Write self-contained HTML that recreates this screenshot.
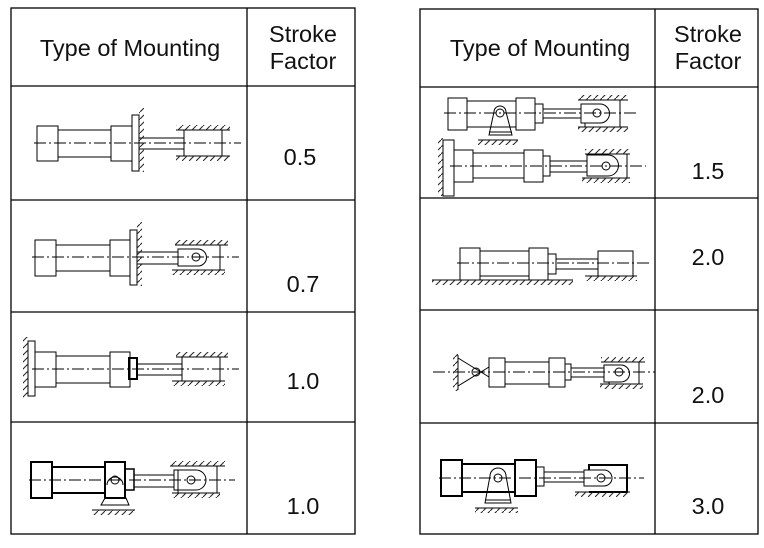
<!DOCTYPE html>
<html><head><meta charset="utf-8"><style>
body{margin:0;background:#fff;width:764px;height:548px;overflow:hidden}
svg{position:absolute;left:0;top:0}
text{font-family:"Liberation Sans",Arial,sans-serif;fill:#111}
</style></head><body>
<svg width="764" height="548" viewBox="0 0 764 548">
<defs>
<pattern id="h" width="7" height="7" patternUnits="userSpaceOnUse"><path d="M-1,8 L8,-1" stroke="#222" stroke-width="1"/></pattern>
</defs>
<g fill="none" stroke="#000" stroke-width="1.3">
<rect x="11" y="8" width="344" height="526"/>
<line x1="247" y1="8" x2="247" y2="534"/>
<line x1="11" y1="86" x2="355" y2="86"/><line x1="11" y1="200" x2="355" y2="200"/>
<line x1="11" y1="312" x2="355" y2="312"/><line x1="11" y1="422" x2="355" y2="422"/>
<rect x="420" y="9" width="338" height="525"/>
<line x1="655" y1="9" x2="655" y2="534"/>
<line x1="420" y1="87" x2="758" y2="87"/><line x1="420" y1="198" x2="758" y2="198"/>
<line x1="420" y1="310" x2="758" y2="310"/><line x1="420" y1="423" x2="758" y2="423"/>
</g>
<g font-size="23.5" text-anchor="middle">
<text x="130" y="56">Type of Mounting</text>
<text x="303" y="42">Stroke</text><text x="303" y="69">Factor</text>
<text x="540" y="56">Type of Mounting</text>
<text x="708" y="42">Stroke</text><text x="708" y="69">Factor</text>
<text x="300" y="165">0.5</text><text x="303" y="292">0.7</text>
<text x="303" y="389">1.0</text><text x="303" y="514">1.0</text>
<text x="708" y="179">1.5</text><text x="708" y="265">2.0</text>
<text x="708" y="403">2.0</text><text x="708" y="514">3.0</text>
</g>
<g fill="none" stroke="#000" stroke-width="1">
<g stroke-dasharray="12,3,2,3">
<line x1="34" y1="143" x2="241" y2="143"/><line x1="32" y1="257" x2="239" y2="257"/>
<line x1="32" y1="369" x2="239" y2="369"/><line x1="29" y1="480" x2="235" y2="480"/>
<line x1="444" y1="113" x2="638" y2="113"/><line x1="450" y1="166" x2="646" y2="166"/>
<line x1="457" y1="263" x2="650" y2="263"/><line x1="433" y1="372" x2="655" y2="372"/>
<line x1="439" y1="478" x2="644" y2="478"/>
</g>
<rect x="37" y="126" width="21" height="35"/><rect x="58" y="130" width="53" height="27"/>
<rect x="111" y="126" width="21" height="35"/><rect x="132" y="115" width="7" height="56"/>
<rect x="139" y="138" width="45" height="11"/>
<path d="M184,130V156M176,130H230M176,156H230M222,130V156"/>
<rect x="35" y="240" width="21" height="36"/><rect x="56" y="245" width="54" height="26"/>
<rect x="110" y="240" width="20" height="36"/><rect x="130" y="230" width="7" height="55"/>
<rect x="137" y="252" width="41" height="12"/>
<path d="M178,249H198A8.5,8.5 0 0 1 198,266H178Z"/><circle cx="196" cy="257" r="4"/>
<path d="M175,245H228M172,270H225M220,245V270"/>
<rect x="28" y="341" width="7" height="55"/>
<rect x="35" y="352" width="21" height="35"/><rect x="56" y="356" width="54" height="27"/>
<rect x="110" y="352" width="20" height="35"/><rect x="129" y="358" width="8" height="21" stroke-width="2"/>
<rect x="137" y="364" width="45" height="11"/>
<path d="M182,357V381M176,357H228M172,381H225M220,357V381"/>
<g stroke-width="2"><rect x="31" y="462" width="21" height="36"/><rect x="52" y="467" width="53" height="26"/>
<rect x="105" y="462" width="20" height="36"/></g>
<circle cx="115" cy="480" r="4"/><path d="M107,485A8,8 0 0 1 123,485M101,505L105,498H126L129,505Z"/>
<rect x="125" y="469" width="9" height="21" stroke-width="1.5"/><rect x="134" y="475" width="40" height="12"/>
<path d="M174,470H196A10,10 0 0 1 196,490H174Z"/><circle cx="191" cy="480" r="4"/>
<path d="M170,466H225M172,493H220M217,466V493M178,470V493"/>
<line x1="92" y1="510" x2="135" y2="510"/>
<rect x="448" y="98" width="19" height="32"/><rect x="467" y="101" width="49" height="26"/>
<rect x="516" y="98" width="19" height="32"/><rect x="535" y="104" width="8" height="19"/>
<rect x="543" y="109" width="38" height="9"/>
<path d="M489,135L494,112A6,6 0 0 1 506,112L512,135Z"/><line x1="489" y1="132" x2="512" y2="132"/><circle cx="500" cy="113" r="4"/>
<line x1="478" y1="140" x2="518" y2="140"/>
<path d="M581,104H600A9.5,9.5 0 0 1 600,123H581Z"/><circle cx="597" cy="113" r="4"/>
<path d="M578,100H628M578,127H628M620,100V127M585,123V127"/>
<rect x="443" y="140" width="11" height="56"/>
<rect x="454" y="150" width="19" height="32"/><rect x="473" y="153" width="51" height="25"/>
<rect x="524" y="150" width="19" height="32"/><rect x="543" y="156" width="7" height="20"/>
<rect x="550" y="161" width="37" height="11"/>
<path d="M587,155H608A10.5,10.5 0 0 1 608,176H587Z"/><circle cx="606" cy="166" r="4"/>
<path d="M585,154H630M582,178H630M627,154V178"/>
<rect x="460" y="248" width="20" height="32"/><rect x="480" y="251" width="49" height="25"/>
<rect x="529" y="248" width="19" height="32"/><rect x="548" y="254" width="8" height="20"/>
<rect x="556" y="259" width="42" height="10"/><rect x="598" y="251" width="35" height="25"/>
<path d="M432,280H573M585,276H637"/>
<line x1="458" y1="355" x2="458" y2="390"/>
<path d="M458,358L489,377M458,386L489,367"/><circle cx="476" cy="372" r="4"/>
<rect x="489" y="358" width="16" height="29"/><rect x="505" y="362" width="44" height="22"/>
<rect x="549" y="358" width="16" height="29"/><rect x="565" y="364" width="6" height="16"/>
<rect x="571" y="368" width="33" height="9"/>
<path d="M604,365H621A8.5,8.5 0 0 1 621,382H604Z"/><circle cx="619" cy="372" r="4"/>
<path d="M601,362H645M600,384H643M639,362V384M609,382V384"/>
<g stroke-width="2"><rect x="441" y="460" width="21" height="36"/><rect x="462" y="464" width="53" height="28"/>
<rect x="515" y="460" width="21" height="36"/><path d="M589,470V465H627V492H589"/></g>
<path d="M485,503L490,476A8,8 0 0 1 506,476L511,503Z"/><line x1="485" y1="500" x2="511" y2="500"/><circle cx="498" cy="478" r="4"/>
<line x1="475" y1="508" x2="518" y2="508"/>
<rect x="536" y="467" width="8" height="19"/><rect x="544" y="472" width="40" height="10"/>
<path d="M584,470H604A8,8 0 0 1 604,486H584Z"/><circle cx="601" cy="478" r="4"/>
<line x1="575" y1="492" x2="630" y2="492"/>
</g>
<g fill="url(#h)" stroke="none">
<rect x="139" y="108" width="5" height="64"/>
<rect x="176" y="125" width="54" height="5"/><rect x="176" y="156" width="54" height="5"/>
<rect x="137" y="222" width="5" height="64"/>
<rect x="175" y="240" width="53" height="5"/><rect x="172" y="270" width="53" height="5"/>
<rect x="23" y="337" width="5" height="62"/>
<rect x="176" y="352" width="52" height="5"/><rect x="172" y="381" width="53" height="5"/>
<rect x="170" y="461" width="55" height="5"/><rect x="172" y="493" width="48" height="5"/>
<rect x="92" y="510" width="43" height="5"/>
<rect x="578" y="95" width="50" height="5"/><rect x="578" y="127" width="50" height="5"/>
<rect x="478" y="140" width="40" height="5"/>
<rect x="438" y="138" width="5" height="58"/>
<rect x="585" y="149" width="45" height="5"/><rect x="582" y="178" width="48" height="5"/>
<rect x="432" y="280" width="141" height="5"/><rect x="585" y="276" width="52" height="5"/>
<rect x="453" y="354" width="5" height="37"/>
<rect x="601" y="357" width="44" height="5"/><rect x="600" y="384" width="43" height="5"/>
<rect x="475" y="508" width="43" height="5"/><rect x="575" y="492" width="55" height="5"/>
</g>
</svg>
</body></html>
